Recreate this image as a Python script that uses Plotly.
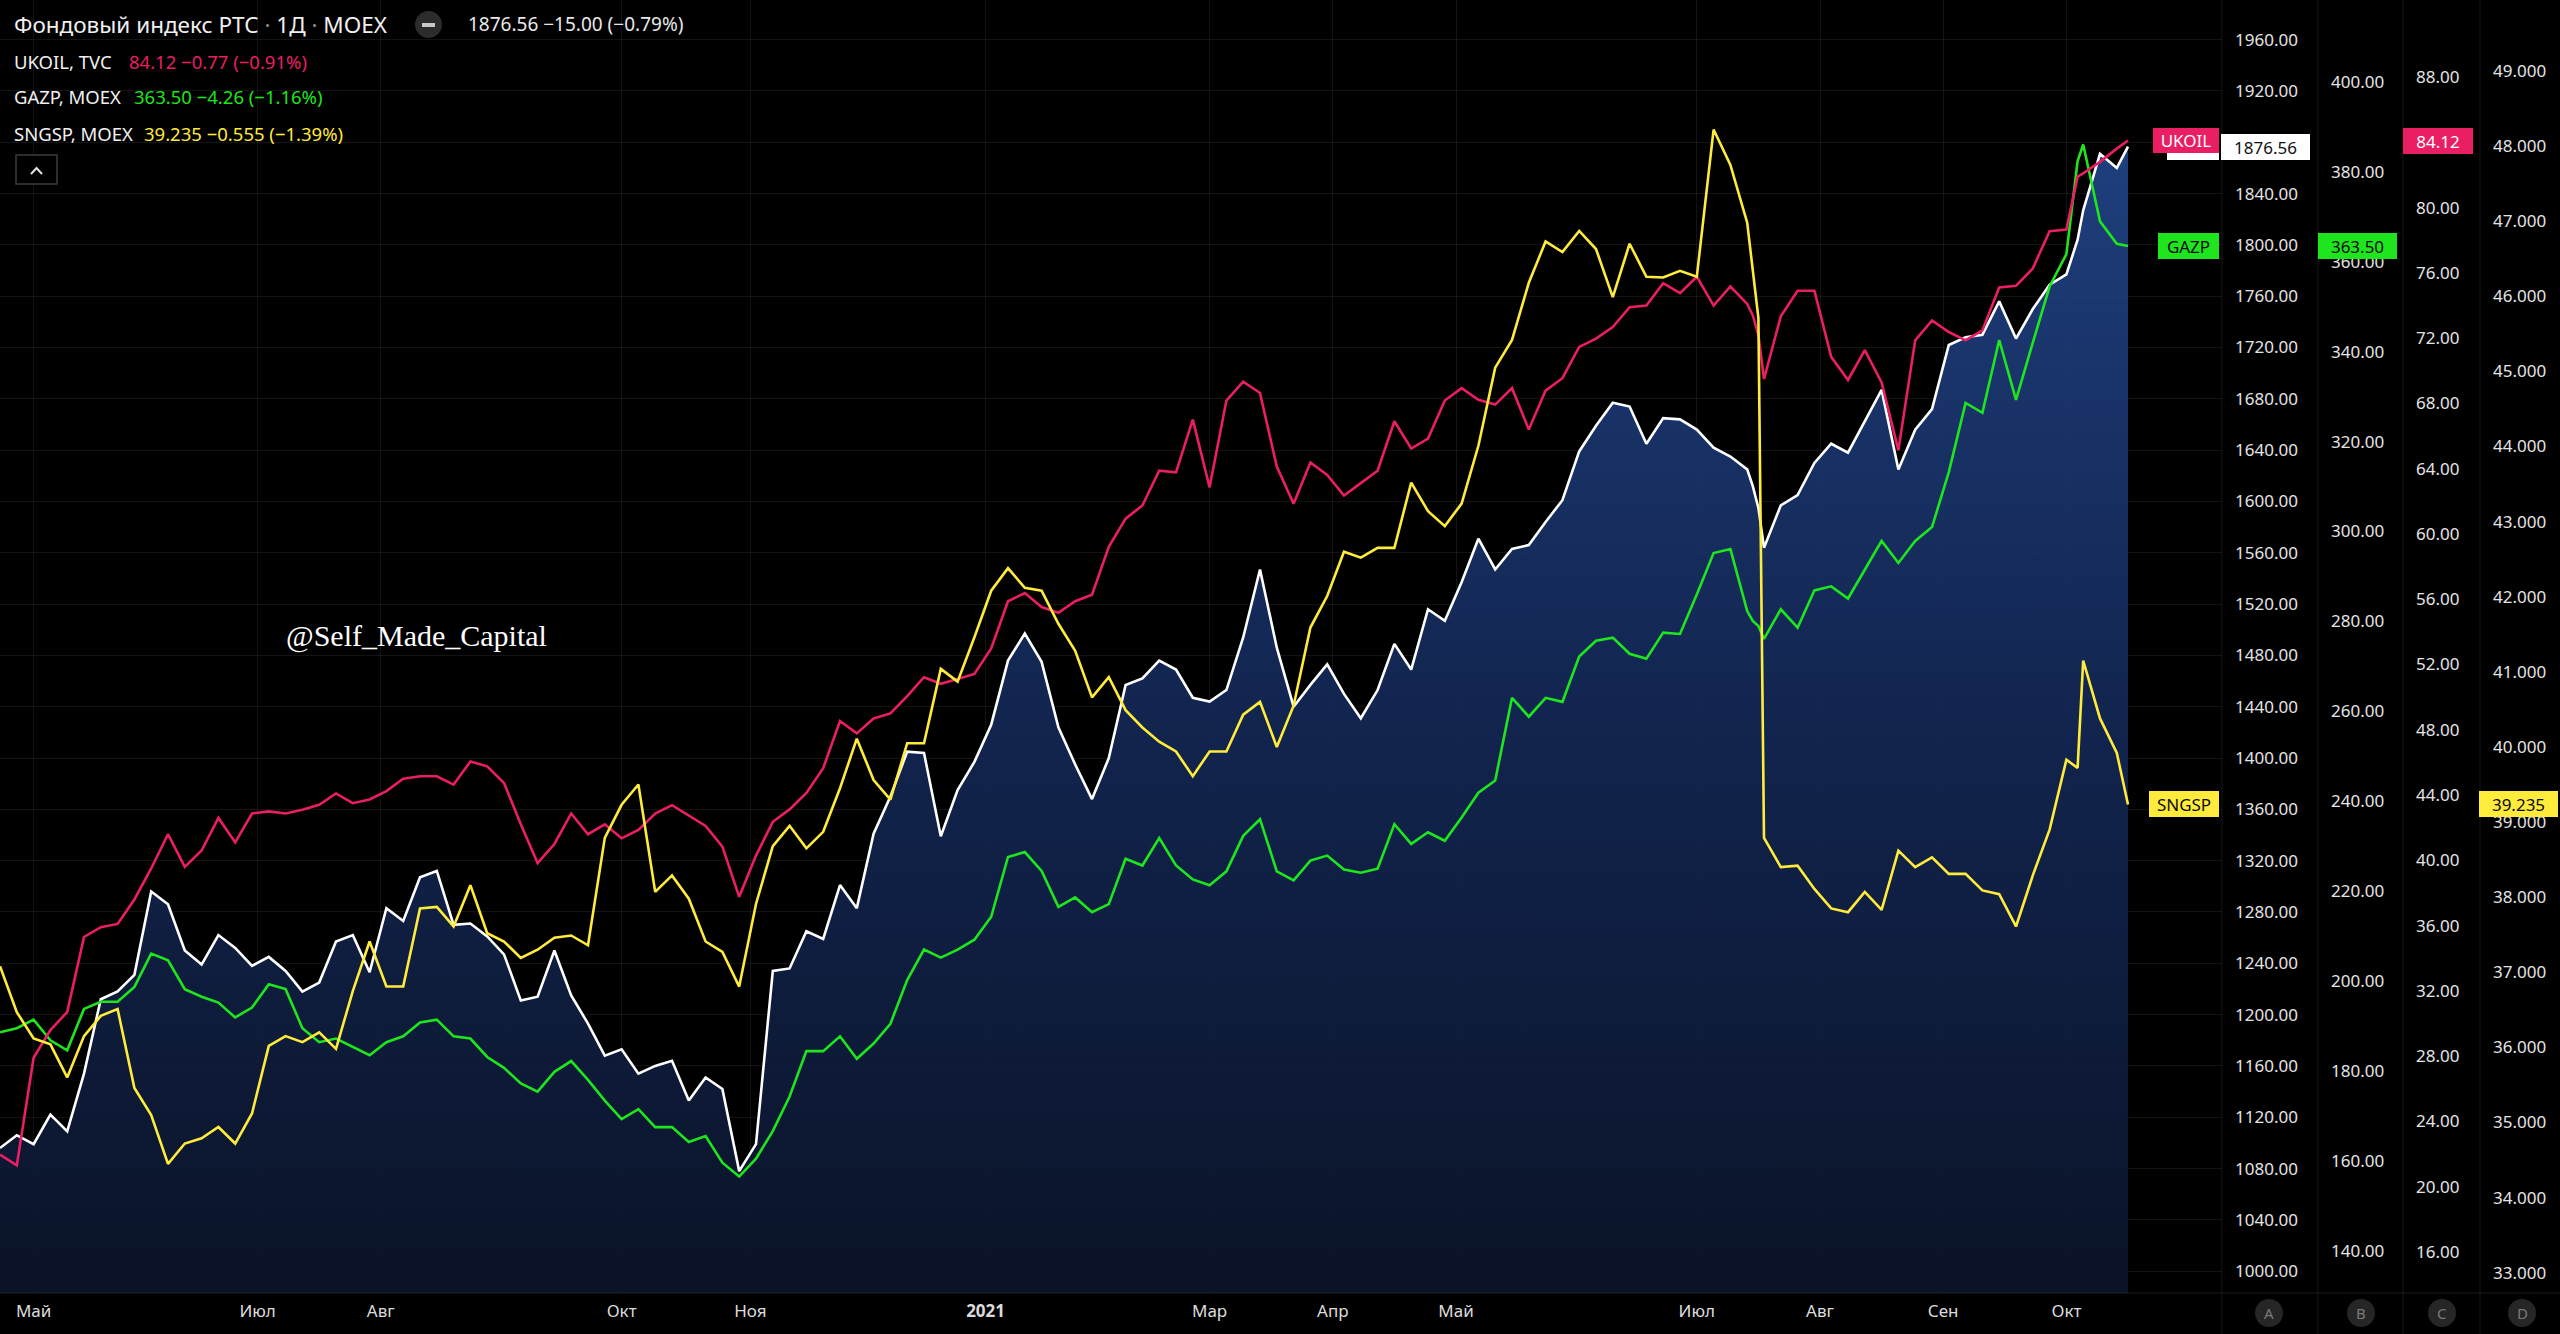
import plotly.graph_objects as go

# ---------------- data (daily sessions) ----------------
sessions = [0, 3, 6, 9, 12, 15, 18, 21, 24, 27, 30, 33, 36, 39, 42, 45, 48, 51, 54, 57, 60, 63,
            66, 69, 72, 75, 78, 81, 84, 87, 90, 93, 96, 99, 102, 105, 108, 111, 114, 117, 120, 123, 126,
            129, 132, 135, 138, 141, 144, 147, 150, 153, 156, 159, 162, 165, 168, 171, 174, 177, 180, 183, 186, 189,
            192, 195, 198, 201, 204, 207, 210, 213, 216, 219, 222, 225, 228, 231, 234, 237, 240, 243, 246, 249, 252,
            255, 258, 261, 264, 267, 270, 273, 276, 279, 282, 285, 288, 291, 294, 297, 300, 303, 306, 309, 312, 313, 314, 315,
            318, 321, 324, 327, 330, 333, 336, 339, 342, 345, 348, 351, 354, 357, 360, 363, 366, 369, 371, 372, 375, 378, 380]

rts = [1096, 1106, 1099, 1122, 1109, 1154, 1212, 1218, 1231, 1296, 1286, 1250, 1239, 1262, 1252, 1238, 1245, 1234, 1218, 1225, 1257, 1262,
       1233, 1283, 1273, 1307, 1312, 1270, 1271, 1261, 1247, 1211, 1214, 1250, 1215, 1193, 1168, 1173, 1154, 1160, 1164, 1133, 1151,
       1142, 1078, 1099, 1234, 1236, 1265, 1259, 1301, 1283, 1341, 1370, 1405, 1404, 1339, 1375, 1397, 1426, 1476, 1497, 1475, 1424,
       1395, 1368, 1400, 1457, 1462, 1476, 1469, 1447, 1444, 1453, 1494, 1547, 1486, 1440, 1457, 1473, 1450, 1431, 1453, 1489, 1469,
       1516, 1507, 1537, 1571, 1547, 1563, 1566, 1584, 1601, 1639, 1659, 1677, 1674, 1645, 1665, 1664, 1656, 1642, 1635, 1625, 1612, 1595, 1564,
       1597, 1605, 1630, 1645, 1638, 1663, 1687, 1625, 1656, 1672, 1722, 1728, 1730, 1756, 1727, 1750, 1769, 1777, 1804, 1827, 1871, 1860, 1876.56]

ukoil = [21.96, 21.3, 27.9, 29.6, 30.7, 35.3, 35.9, 36.1, 37.6, 39.5, 41.6, 39.6, 40.6, 42.6, 41.1, 42.87, 43.0, 42.87, 43.1, 43.4, 44.1, 43.5,
         43.73, 44.24, 45.0, 45.15, 45.15, 44.64, 46.06, 45.76, 44.74, 42.21, 39.83, 41.0, 42.87, 41.6, 42.21, 41.35, 41.86, 42.87, 43.38, 42.72, 42.11,
         40.84, 37.76, 40.29, 42.36, 43.12, 44.13, 45.65, 48.54, 47.78, 48.69, 49.0, 50.06, 51.22, 50.82, 51.12, 51.42, 52.99, 55.88, 56.38, 55.52, 55.17,
         55.88, 56.28, 59.22, 60.94, 61.75, 63.88, 63.78, 67.01, 62.86, 68.18, 69.34, 68.64, 64.13, 61.85, 64.38, 63.62, 62.36, 63.12, 63.88, 66.91, 65.24,
         65.85, 68.18, 68.94, 68.23, 67.93, 68.94, 66.41, 68.79, 69.55, 71.47, 71.98, 72.68, 73.9, 74.0, 75.37, 74.76, 75.77, 74.0, 75.17, 74.1, 73.4, 72.2, 69.5,
         73.34, 74.91, 74.91, 70.86, 69.44, 71.27, 69.29, 65.14, 71.87, 73.09, 72.38, 71.87, 72.48, 75.11, 75.21, 76.28, 78.56, 78.66, 81.9, 82.1, 82.81, 83.62, 84.12]

gazp = [188.6, 189.5, 191.4, 186.8, 184.6, 193.8, 195.4, 195.4, 198.7, 206.1, 204.6, 198.2, 196.5, 195.2, 191.9, 194.1, 199.3, 198.2, 189.5, 186.4, 187.2, 185.3,
        183.5, 186.4, 187.7, 190.8, 191.4, 187.7, 187.2, 183.1, 180.7, 177.2, 175.4, 179.8, 182.2, 178.0, 173.4, 169.3, 171.5, 167.5, 167.5, 164.2, 165.5,
        159.6, 156.5, 160.5, 166.6, 174.3, 184.4, 184.4, 187.7, 182.7, 186.1, 190.5, 200.2, 207.0, 205.2, 207.0, 209.2, 214.3, 227.6, 228.7, 224.5, 216.5,
        218.6, 215.3, 217.1, 227.2, 225.7, 231.8, 225.7, 222.6, 221.3, 224.4, 232.3, 236.0, 224.4, 222.4, 226.8, 227.9, 224.8, 224.1, 225.0, 234.9, 230.5,
        233.1, 231.2, 236.4, 241.9, 244.6, 263.0, 258.8, 263.0, 262.1, 272.2, 275.7, 276.4, 272.8, 271.7, 277.5, 277.2, 286.0, 295.2, 296.1, 282.3, 280.1, 279.0, 276.1,
        282.7, 278.6, 286.9, 287.8, 285.1, 291.5, 297.9, 293.0, 297.9, 301.0, 313.2, 328.6, 326.4, 342.6, 329.3, 342.0, 354.5, 361.7, 382.4, 386.1, 369.0, 364.0, 363.5]

sngsp = [37.08, 36.47, 36.12, 36.04, 35.6, 36.15, 36.42, 36.51, 35.46, 35.1, 34.45, 34.72, 34.79, 34.94, 34.72, 35.12, 36.02, 36.15, 36.07, 36.2, 35.98, 36.75,
         37.41, 36.81, 36.81, 37.85, 37.87, 37.61, 38.16, 37.52, 37.41, 37.19, 37.3, 37.46, 37.49, 37.36, 38.79, 39.23, 39.5, 38.07, 38.29, 37.98, 37.41,
         37.27, 36.81, 37.91, 38.68, 38.95, 38.65, 38.87, 39.45, 40.11, 39.56, 39.3, 40.05, 40.05, 41.04, 40.87, 41.46, 42.08, 42.38, 42.12, 42.08, 41.64,
         41.28, 40.66, 40.93, 40.49, 40.26, 40.07, 39.94, 39.61, 39.94, 39.94, 40.43, 40.6, 40.0, 40.55, 41.59, 42.01, 42.6, 42.52, 42.65, 42.65, 43.52,
         43.14, 42.94, 43.24, 44.01, 45.05, 45.42, 46.18, 46.73, 46.59, 46.87, 46.63, 45.99, 46.7, 46.26, 46.25, 46.34, 46.26, 48.22, 47.75, 46.98, 46.32, 45.71, 38.79,
         38.4, 38.42, 38.11, 37.85, 37.8, 38.07, 37.83, 38.62, 38.4, 38.53, 38.31, 38.31, 38.09, 38.04, 37.61, 38.29, 38.9, 39.83, 39.72, 41.15, 40.38, 39.92, 39.235]

month_sessions = [6, 46, 68, 111, 134, 176, 216, 238, 260, 303, 325, 347, 369]
month_labels = ["Май", "Июл", "Авг", "Окт", "Ноя", "<b>2021</b>", "Мар", "Апр", "Май", "Июл", "Авг", "Сен", "Окт"]

rts_ticks = list(range(1000, 1961, 40))
gazp_ticks = list(range(140, 401, 20))
ukoil_ticks = list(range(16, 93, 4))
sngsp_ticks = list(range(33, 50))

# ---------------- layout geometry ----------------
W, H = 2560, 1334
PLOT_R = 2222
PLOT_B = 1293
BAR_PX = 5.6
AX_B, AX_C, AX_D = 2318, 2403, 2480

RED = "#e91e63"
GREEN = "#1ee51e"
YELLOW = "#ffeb3b"
WHITE = "#ffffff"
GRID = "rgba(255,255,255,0.075)"
TXT = "#e4e4e4"
FONT = "Noto Sans"


def px(x):
    return x / W


def py(y):
    return (PLOT_B - y) / PLOT_B


fig = go.Figure()

fig.add_trace(go.Scatter(
    x=sessions, y=rts, mode="lines", yaxis="y",
    line=dict(color=WHITE, width=2.6),
    fill="tozeroy",
    fillgradient=dict(type="vertical",
                      colorscale=[[0, "rgba(11,20,42,0.93)"], [0.5, "rgba(20,41,88,0.9)"], [1, "rgba(34,70,140,0.9)"]],
                      start=983, stop=1890),
    hoverinfo="skip", showlegend=False))
fig.add_trace(go.Scatter(x=sessions, y=ukoil, mode="lines", yaxis="y3",
                         line=dict(color=RED, width=2.6), hoverinfo="skip", showlegend=False))
fig.add_trace(go.Scatter(x=sessions, y=gazp, mode="lines", yaxis="y2",
                         line=dict(color=GREEN, width=2.6), hoverinfo="skip", showlegend=False))
fig.add_trace(go.Scatter(x=sessions, y=sngsp, mode="lines", yaxis="y4",
                         line=dict(color=YELLOW, width=2.6), hoverinfo="skip", showlegend=False))

tickfont = dict(family=FONT, size=17, color=TXT)

common_y = dict(showline=False, zeroline=False, ticks="", automargin=False,
                tickfont=tickfont, ticklabelstandoff=12, fixedrange=True)

fig.update_layout(
    width=W, height=H,
    margin=dict(l=0, r=0, t=0, b=H - PLOT_B),
    paper_bgcolor="#000000", plot_bgcolor="#000000",
    showlegend=False,
    xaxis=dict(domain=[0, PLOT_R / W], range=[0, PLOT_R / BAR_PX],
               tickvals=month_sessions, ticktext=month_labels,
               showgrid=True, gridcolor=GRID, gridwidth=1,
               showline=False, zeroline=False, ticks="", automargin=False,
               tickfont=dict(family=FONT, size=17, color="#dcdcdc"),
               ticklabelstandoff=6, fixedrange=True),
    yaxis=dict(range=[983.0, 1990.9], side="right", anchor="x",
               tickvals=rts_ticks, ticktext=[f"{v:.2f}" for v in rts_ticks],
               showgrid=True, gridcolor=GRID, gridwidth=1, **common_y),
    yaxis2=dict(range=[130.6, 418.24], side="right", overlaying="y", anchor="free", position=AX_B / W,
                tickvals=gazp_ticks, ticktext=[f"{v:.2f}" for v in gazp_ticks],
                showgrid=False, **common_y),
    yaxis3=dict(range=[13.48, 92.73], side="right", overlaying="y", anchor="free", position=AX_C / W,
                tickvals=ukoil_ticks, ticktext=[f"{v:.2f}" for v in ukoil_ticks],
                showgrid=False, **common_y),
    yaxis4=dict(range=[32.73, 49.945], side="right", overlaying="y", anchor="free", position=AX_D / W,
                tickvals=sngsp_ticks, ticktext=[f"{v:.3f}" for v in sngsp_ticks],
                showgrid=False, **common_y),
)

shapes = []
# axis separators
for xs in [PLOT_R, AX_B, AX_C, AX_D]:
    shapes.append(dict(type="line", xref="paper", yref="paper", x0=px(xs), x1=px(xs),
                       y0=py(H), y1=1, line=dict(color="rgba(255,255,255,0.09)", width=1)))
# bottom separator
shapes.append(dict(type="line", xref="paper", yref="paper", x0=0, x1=1, y0=0, y1=0,
                   line=dict(color="rgba(255,255,255,0.1)", width=1)))
# hidden RTS name label (behind UKOIL tag)
shapes.append(dict(type="rect", xref="paper", yref="paper", x0=px(2167), x1=px(2219),
                   y0=py(160), y1=py(134), fillcolor="#ffffff", line=dict(width=0), layer="above"))
# collapse button
shapes.append(dict(type="rect", xref="paper", yref="paper", x0=px(16), x1=px(57),
                   y0=py(184), y1=py(155), fillcolor="#000000",
                   line=dict(color="#3c3c3c", width=1.5), layer="above"))
shapes.append(dict(type="path", xref="paper", yref="paper",
                   path=f"M {px(31)},{py(174)} L {px(36.5)},{py(168)} L {px(42)},{py(174)}",
                   line=dict(color="#e0e0e0", width=2), layer="above"))
# title status icon
shapes.append(dict(type="circle", xref="paper", yref="paper", x0=px(415), x1=px(442),
                   y0=py(38), y1=py(11), fillcolor="#2c2c2c", line=dict(width=0), layer="above"))
shapes.append(dict(type="rect", xref="paper", yref="paper", x0=px(422), x1=px(435),
                   y0=py(27), y1=py(23), fillcolor="#c8c8c8", line=dict(width=0), layer="above"))
# scale buttons A B C D
for cx in [2269, 2361, 2442, 2522]:
    shapes.append(dict(type="circle", xref="paper", yref="paper", x0=px(cx - 14), x1=px(cx + 14),
                       y0=py(1327), y1=py(1299), fillcolor="#262626", line=dict(width=0), layer="above"))
fig.update_layout(shapes=shapes)

ann = []


def text(x, y, t, size, color, anchor="left", family=FONT):
    ann.append(dict(x=px(x), y=py(y), xref="paper", yref="paper", text=t, showarrow=False,
                    xanchor=anchor, yanchor="middle", font=dict(family=family, size=size, color=color)))


def tag(x0, x1, y0, y1, t, bg, fg):
    ann.append(dict(x=px((x0 + x1) / 2), y=py((y0 + y1) / 2), xref="paper", yref="paper", text=t,
                    showarrow=False, xanchor="center", yanchor="middle", width=x1 - x0, height=y1 - y0,
                    bgcolor=bg, borderpad=0, borderwidth=0, align="center", valign="middle",
                    font=dict(family=FONT, size=17, color=fg)))


sep = "<span style='color:#8a8a8a'>·</span>"
text(12, 24, f"Фондовый индекс РТС {sep} 1Д {sep} MOEX", 22.5, "#f0f0f0")
text(466, 24, "1876.56 −15.00 (−0.79%)", 19, "#e8e8e8")
text(12, 61, "UKOIL, TVC", 18.5, "#f0f0f0")
text(127, 61, "84.12 −0.77 (−0.91%)", 18.5, RED)
text(12, 97, "GAZP, MOEX", 18.5, "#f0f0f0")
text(132, 97, "363.50 −4.26 (−1.16%)", 18.5, GREEN)
text(12, 134, "SNGSP, MOEX", 18.5, "#f0f0f0")
text(142, 134, "39.235 −0.555 (−1.39%)", 18.5, YELLOW)

text(284, 636, "@Self_Made_Capital", 30, "#ffffff", family="Liberation Serif")

tag(2153, 2219, 128, 153, "UKOIL", RED, "#ffffff")
tag(2221, 2310, 134, 160, "1876.56", "#ffffff", "#111111")
tag(2403, 2473, 128, 154, "84.12", RED, "#ffffff")
tag(2158, 2219, 233, 259, "GAZP", GREEN, "#0b0b0b")
tag(2318, 2397, 233, 259, "363.50", GREEN, "#0b0b0b")
tag(2149, 2219, 791, 817, "SNGSP", YELLOW, "#0b0b0b")
tag(2479, 2558, 791, 817, "39.235", YELLOW, "#0b0b0b")

for cx, letter in zip([2269, 2361, 2442, 2522], ["A", "B", "C", "D"]):
    text(cx, 1313, letter, 15, "#7a7a7a", anchor="center")

fig.update_layout(annotations=ann)

fig.write_html("out.html", config={"displayModeBar": False, "staticPlot": True})
